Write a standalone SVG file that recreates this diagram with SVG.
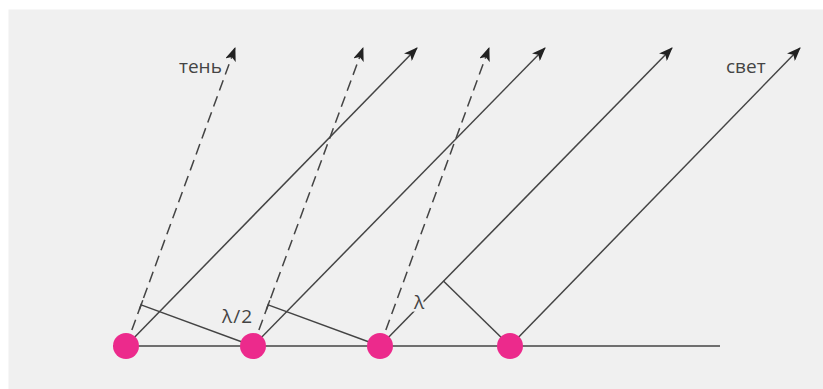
<svg xmlns="http://www.w3.org/2000/svg" width="823" height="389" viewBox="0 0 823 389">
<style>
.ln{stroke:#444;stroke-width:1.5;fill:none}
.dash{stroke-dasharray:11 6}
.txt{font-family:"Open Sans","DejaVu Sans",sans-serif;font-size:19px;fill:#444}
.dot{fill:#ec2a8c}
</style>
<defs>
<marker id="ah" viewBox="0 0 14 11" markerWidth="14" markerHeight="11" refX="13" refY="5.5" orient="auto" markerUnits="userSpaceOnUse">
<path d="M0,0 L14,5.5 L0,11 L3.5,5.5 z" fill="#222"/>
</marker>
</defs>
<rect x="0" y="0" width="823" height="389" fill="#ffffff"/>
<rect x="8.5" y="9.5" width="815" height="380" fill="#f0f0f0"/>
<g id="connectors">
<line class="ln" x1="113" y1="346" x2="720" y2="346" stroke-width="2"/>
<line class="ln dash" x1="126" y1="346" x2="235" y2="48" marker-end="url(#ah)"/>
<line class="ln dash" x1="253" y1="346" x2="363" y2="48" marker-end="url(#ah)"/>
<line class="ln dash" x1="380" y1="346" x2="489" y2="48" marker-end="url(#ah)"/>
<line class="ln" x1="126" y1="346" x2="417" y2="48" marker-end="url(#ah)"/>
<line class="ln" x1="253" y1="346" x2="545" y2="48" marker-end="url(#ah)"/>
<line class="ln" x1="380" y1="346" x2="672" y2="48" marker-end="url(#ah)"/>
<line class="ln" x1="510" y1="346" x2="800" y2="48" marker-end="url(#ah)"/>
<line class="ln" x1="253" y1="346" x2="141.1" y2="304.9"/>
<line class="ln" x1="380" y1="346" x2="268.1" y2="304.9"/>
<line class="ln" x1="510" y1="346" x2="443.4" y2="281"/>
<line class="ln" x1="139.4" y1="309.6" x2="142.8" y2="300.2"/>
<line class="ln" x1="266.4" y1="309.6" x2="269.8" y2="300.2"/>
</g>
<g id="labels">
<text class="txt" x="179" y="73">тень</text>
<text class="txt" x="726" y="73">свет</text>
<text class="txt" x="222" y="323" letter-spacing="1">λ/2</text>
<text class="txt" x="414" y="309" stroke="#f0f0f0" stroke-width="5" paint-order="stroke">λ</text>
</g>
<g id="node1"><circle class="dot" cx="126" cy="346" r="13"/></g>
<g id="node2"><circle class="dot" cx="253" cy="346" r="13"/></g>
<g id="node3"><circle class="dot" cx="380" cy="346" r="13"/></g>
<g id="node4"><circle class="dot" cx="510" cy="346" r="13"/></g>
</svg>
